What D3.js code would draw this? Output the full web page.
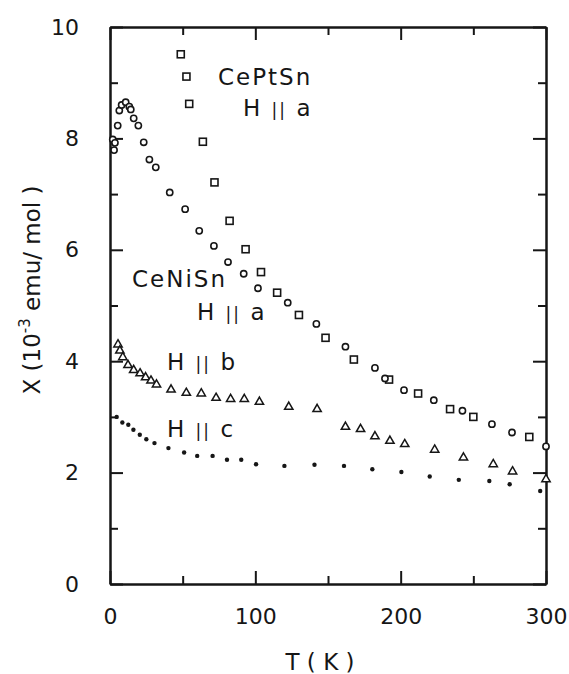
<!DOCTYPE html>
<html>
<head>
<meta charset="utf-8">
<script src="https://cdn.jsdelivr.net/npm/d3@7"></script>
<style>
  body { margin: 0; background: #fff; }
</style>
</head>
<body>
<div id="chart"></div>
<script>
// CePtSn, H || a (open squares)
const ptSnA_T   = [48.7, 52.6, 54.5, 63.9, 71.9, 82.3, 93.3, 103.9, 115, 130, 148.3, 167.8, 192, 212, 234, 250, 288.5];
const ptSnA_chi = [9.51, 9.11, 8.62, 7.94, 7.21, 6.52, 6.01, 5.60, 5.23, 4.83, 4.42, 4.03, 3.67, 3.42, 3.14, 3.00, 2.64];

// CeNiSn, H || a (open circles)
const niSnA_T   = [1.9, 2.8, 3.4, 5.3, 6.4, 8, 10.8, 13.3, 14.3, 16.3, 19.5, 23.2, 27.1, 31.5, 41.1, 51.7, 61.4, 71.5, 81.2, 92, 101.8, 122.3, 142, 162, 182.3, 189.2, 202.3, 222.8, 242.5, 262.8, 276.6, 300];
const niSnA_chi = [7.98, 7.79, 7.92, 8.23, 8.50, 8.60, 8.65, 8.57, 8.52, 8.36, 8.23, 7.93, 7.62, 7.48, 7.03, 6.73, 6.34, 6.07, 5.78, 5.57, 5.31, 5.05, 4.67, 4.26, 3.88, 3.69, 3.48, 3.30, 3.11, 2.87, 2.72, 2.47];

// CeNiSn, H || b (open triangles)
const niSnB_T   = [5.5, 6.8, 8.8, 12.4, 16.3, 20.7, 24.5, 28.2, 32, 42, 52.5, 62.8, 73, 83, 92.4, 102.8, 123, 142.5, 162, 172.4, 182.3, 192.6, 202.8, 223.4, 243.2, 263.7, 277, 300];
const niSnB_chi = [4.30, 4.19, 4.07, 3.93, 3.84, 3.78, 3.71, 3.65, 3.58, 3.49, 3.43, 3.42, 3.34, 3.32, 3.32, 3.27, 3.18, 3.14, 2.82, 2.78, 2.65, 2.57, 2.51, 2.41, 2.27, 2.15, 2.02, 1.88];

// CeNiSn, H || c (filled dots)
const niSnC_T   = [4.6, 8.5, 12.6, 16.1, 20.5, 25, 30.6, 40.2, 51, 60, 70.6, 80.5, 90.3, 100.5, 120, 140.7, 161, 180.5, 200.5, 220, 240, 261, 275, 296];
const niSnC_chi = [3.00, 2.90, 2.86, 2.77, 2.68, 2.60, 2.53, 2.44, 2.36, 2.30, 2.30, 2.23, 2.23, 2.15, 2.12, 2.14, 2.12, 2.06, 2.01, 1.93, 1.87, 1.85, 1.79, 1.67];

const xMajor = [0, 100, 200, 300];
const xMinor = [50, 150, 250];
const yMajor = [0, 2, 4, 6, 8, 10];
const yMinor = [1, 3, 5, 7, 9];

const plotL = 110, plotR = 546, plotT = 27, plotB = 584;
const ink = '#161616';
const font = '"DejaVu Sans", sans-serif';

const svg = d3.select('#chart').append('svg')
  .attr('width', 569)
  .attr('height', 674);

const x = d3.scaleLinear().domain([0, 300]).range([plotL, plotR]);
const y = d3.scaleLinear().domain([0, 10]).range([plotB, plotT]);

// axes: ticks point inward on all four sides, the domain paths make the frame
function styleAxis(g) {
  g.selectAll('path.domain').attr('stroke', ink).attr('stroke-width', 2);
  g.selectAll('.tick line').attr('stroke', ink).attr('stroke-width', 2);
  g.selectAll('.tick text').attr('font-size', 22).attr('font-family', font).attr('fill', ink);
}

function addAxis(axis, tx, ty) {
  svg.append('g')
    .attr('transform', `translate(${tx},${ty})`)
    .call(axis)
    .call(styleAxis);
}

addAxis(d3.axisBottom(x).tickValues(xMajor).tickSizeInner(-13).tickSizeOuter(0).tickPadding(24).tickFormat(d3.format('d')), 0, plotB);
addAxis(d3.axisBottom(x).tickValues(xMinor).tickSizeInner(-8).tickSizeOuter(0).tickFormat(''), 0, plotB);
addAxis(d3.axisTop(x).tickValues(xMajor).tickSizeInner(-13).tickSizeOuter(0).tickFormat(''), 0, plotT);
addAxis(d3.axisTop(x).tickValues(xMinor).tickSizeInner(-8).tickSizeOuter(0).tickFormat(''), 0, plotT);
addAxis(d3.axisLeft(y).tickValues(yMajor).tickSizeInner(-13).tickSizeOuter(0).tickPadding(31).tickFormat(d3.format('d')), plotL, 0);
addAxis(d3.axisLeft(y).tickValues(yMinor).tickSizeInner(-8).tickSizeOuter(0).tickFormat(''), plotL, 0);
addAxis(d3.axisRight(y).tickValues(yMajor).tickSizeInner(-13).tickSizeOuter(0).tickFormat(''), plotR, 0);
addAxis(d3.axisRight(y).tickValues(yMinor).tickSizeInner(-8).tickSizeOuter(0).tickFormat(''), plotR, 0);

// markers
const pts = (T, C) => T.map((t, i) => ({ t, c: C[i] }));

svg.append('g').selectAll('rect')
  .data(pts(ptSnA_T, ptSnA_chi))
  .join('rect')
  .attr('x', d => x(d.t) - 3.5)
  .attr('y', d => y(d.c) - 3.5)
  .attr('width', 7).attr('height', 7)
  .attr('fill', '#fff')
  .attr('stroke', ink)
  .attr('stroke-width', 1.6);

svg.append('g').selectAll('circle')
  .data(pts(niSnA_T, niSnA_chi))
  .join('circle')
  .attr('cx', d => x(d.t))
  .attr('cy', d => y(d.c))
  .attr('r', 3.1)
  .attr('fill', '#fff')
  .attr('stroke', ink)
  .attr('stroke-width', 1.6);

const tri = d3.symbol().type(d3.symbolTriangle).size(30);
svg.append('g').selectAll('path')
  .data(pts(niSnB_T, niSnB_chi))
  .join('path')
  .attr('transform', d => `translate(${x(d.t)},${y(d.c)})`)
  .attr('d', tri)
  .attr('fill', '#fff')
  .attr('stroke', ink)
  .attr('stroke-width', 1.5);

svg.append('g').selectAll('circle')
  .data(pts(niSnC_T, niSnC_chi))
  .join('circle')
  .attr('cx', d => x(d.t))
  .attr('cy', d => y(d.c))
  .attr('r', 2.2)
  .attr('fill', ink);

// text labels
function label(tx, ty, main, tail) {
  const t = svg.append('text')
    .attr('x', tx).attr('y', ty)
    .attr('font-family', font)
    .attr('font-size', 23)
    .attr('letter-spacing', 2)
    .attr('fill', ink);
  if (tail === undefined) {
    t.text(main);
  } else {
    t.append('tspan').text('H ');
    t.append('tspan').attr('font-size', 17).text('||');
    t.append('tspan').text(' ' + tail);
  }
}

label(218, 85, 'CePtSn');
label(243, 116, 'H', 'a');
label(132, 287, 'CeNiSn');
label(197, 320, 'H', 'a');
label(167, 370, 'H', 'b');
label(167, 437, 'H', 'c');

// axis titles
svg.append('text')
  .attr('x', 320).attr('y', 670)
  .attr('text-anchor', 'middle')
  .attr('font-family', font)
  .attr('font-size', 23)
  .attr('fill', ink)
  .text('T ( K )');

const yTitle = svg.append('text')
  .attr('transform', 'translate(40,290) rotate(-90)')
  .attr('text-anchor', 'middle')
  .attr('font-family', font)
  .attr('font-size', 23)
  .attr('fill', ink);
yTitle.append('tspan').text('X (10');
yTitle.append('tspan').attr('font-size', 15).attr('dy', -10).text('-3');
yTitle.append('tspan').attr('dy', 10).text(' emu/ mol )');
</script>
</body>
</html>
